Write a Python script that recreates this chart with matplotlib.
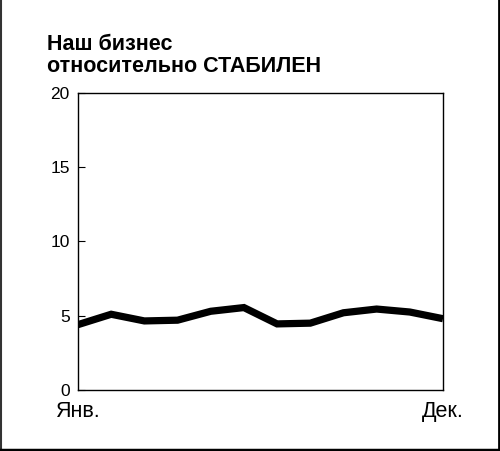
import matplotlib
matplotlib.use("Agg")
import matplotlib.pyplot as plt
from matplotlib.lines import Line2D

plt.rcParams['font.family'] = ['Liberation Sans', 'DejaVu Sans']

months = list(range(12))
values = [4.4, 5.1, 4.65, 4.7, 5.3, 5.55, 4.45, 4.5, 5.2, 5.45, 5.25, 4.8]
y_ticks = [0, 5, 10, 15, 20]
x_labels = ['Янв.', 'Дек.']
title = 'Наш бизнес\nотносительно СТАБИЛЕН'


def draw_chart():
    fig = plt.figure(figsize=(5.0, 4.51), dpi=100)
    ax = fig.add_axes([0.156, 0.1353, 0.73, 0.6585])

    ax.plot(months, values, color='black', linewidth=5.2,
            solid_joinstyle='miter', solid_capstyle='butt')
    ax.set_xlim(months[0], months[-1])
    ax.set_ylim(0, 20)

    ax.set_yticks(y_ticks)
    ax.set_yticklabels([str(t) for t in y_ticks], fontsize=12.5)
    ax.tick_params(axis='y', direction='in', length=5, width=0.8, pad=6)
    ax.set_xticks([months[0], months[-1]])
    ax.set_xticklabels(x_labels, fontsize=15.5)
    ax.tick_params(axis='x', length=0, pad=8)

    for s in ax.spines.values():
        s.set_linewidth(1.0)

    fig.text(0.094, 0.925, title, fontsize=15.5, fontweight='bold',
             ha='left', va='top', linespacing=1.1)

    # frame on left, right and bottom of the figure
    fig.add_artist(Line2D([0.002, 0.002], [0, 1], transform=fig.transFigure,
                          color='#333333', linewidth=1.5))
    fig.add_artist(Line2D([0.997, 0.997], [0, 1], transform=fig.transFigure,
                          color='black', linewidth=2.0))
    fig.add_artist(Line2D([0, 1], [0.003, 0.003], transform=fig.transFigure,
                          color='black', linewidth=2.5))

    fig.savefig('out.png', dpi=100, facecolor='white')


if __name__ == "__main__":
    draw_chart()
